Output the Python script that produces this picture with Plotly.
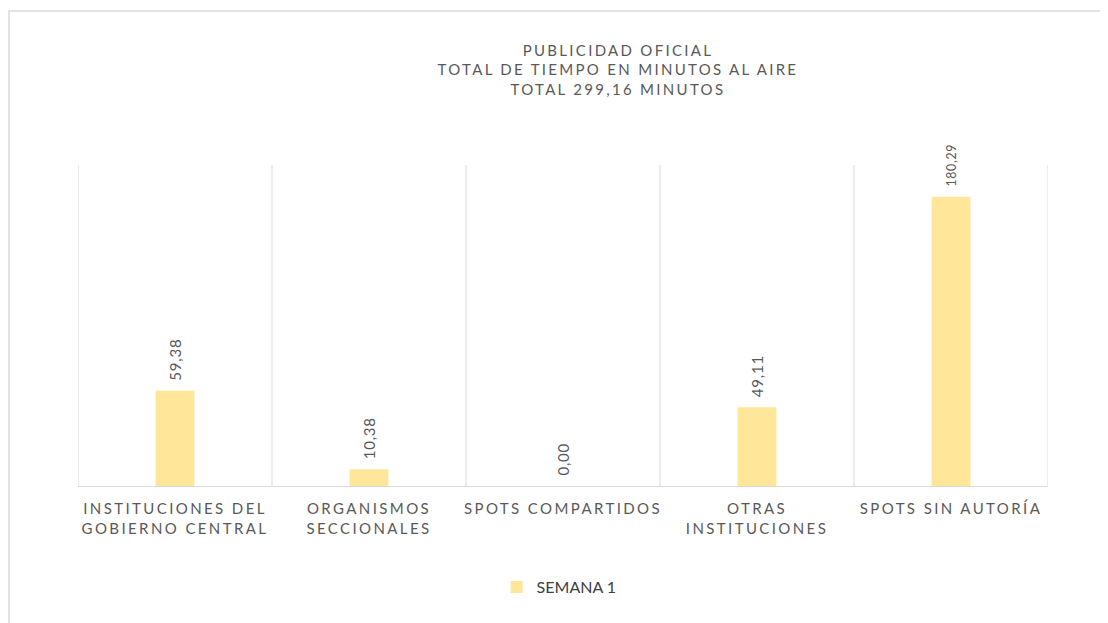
import plotly.graph_objects as go

categories = ["INSTITUCIONES DEL<br>GOBIERNO CENTRAL", "ORGANISMOS<br>SECCIONALES",
              "SPOTS COMPARTIDOS", "OTRAS<br>INSTITUCIONES", "SPOTS SIN AUTORÍA"]
values = [59.38, 10.38, 0.00, 49.11, 180.29]
series_name = "SEMANA 1"
title_lines = ["PUBLICIDAD OFICIAL", "TOTAL DE TIEMPO EN MINUTOS AL AIRE", "TOTAL 299,16 MINUTOS"]

labels = [f"{v:.2f}".replace(".", ",") for v in values]

FONT = "Lato"
GRAY = "#595959"

fig = go.Figure()
fig.add_trace(go.Bar(
    x=categories, y=values, name=series_name,
    marker=dict(color="#FFE699", line=dict(width=0)),
    text=labels, textposition="outside", textangle=-90,
    textfont=dict(family=FONT, size=15, color=GRAY),
    cliponaxis=False,
))

shapes = []
n = len(categories)
for i in range(n + 1):
    shapes.append(dict(type="line", xref="x", yref="y", x0=i - 0.5, x1=i - 0.5, y0=0, y1=200,
                       line=dict(color="#D9D9D9", width=1), layer="below"))
# outer chart border
shapes.append(dict(type="rect", xref="paper", yref="paper", x0=-0.0711, x1=1.0608, y0=-0.5, y1=1.4798,
                   line=dict(color="#D9D9D9", width=1.5), fillcolor="rgba(0,0,0,0)"))

fig.update_layout(
    width=1100, height=615,
    margin=dict(l=70, r=60, t=157, b=137),
    paper_bgcolor="white", plot_bgcolor="white",
    bargap=0.8,
    title=dict(text="<br>".join(title_lines), x=0.5545, xanchor="center", y=0.9226, yanchor="top",
               yref="container",
               font=dict(family=FONT, size=15, color=GRAY)),
    xaxis=dict(showgrid=False, showline=True, linecolor="#D9D9D9", linewidth=1, ticks="",
               tickfont=dict(family=FONT, size=15, color=GRAY), range=[-0.5, n - 0.5],
               ticklabelstandoff=9),
    yaxis=dict(range=[0, 200], showgrid=False, showticklabels=False, zeroline=False, showline=False),
    showlegend=True,
    legend=dict(orientation="h", x=0.496, xanchor="center", y=-0.315, yanchor="middle",
                font=dict(family=FONT, size=16, color="#404040"), itemwidth=30),
    shapes=shapes,
    font=dict(family=FONT),
)

post = """
document.querySelectorAll('.gtitle').forEach(function(e){ e.style.letterSpacing='2.3px'; });
document.querySelectorAll('.xtick text').forEach(function(e){ e.style.letterSpacing='2.4px'; });
document.querySelectorAll('.bartext').forEach(function(e){
  e.style.letterSpacing='0.8px';
  var t = e.getAttribute('transform') || '';
  e.setAttribute('transform', 'translate(0,-9) ' + t);
});
"""

fig.write_html("out.html", post_script=post)
